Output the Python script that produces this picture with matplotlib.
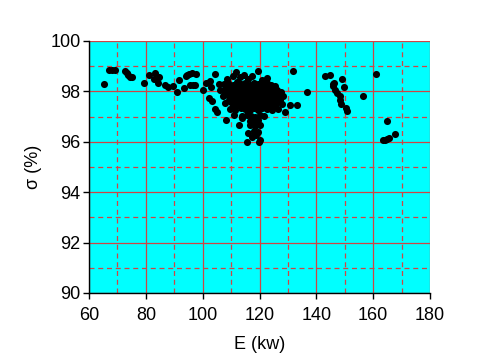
import matplotlib
matplotlib.use("Agg")
import matplotlib.pyplot as plt
from matplotlib.ticker import MultipleLocator

plt.rcParams['font.family'] = ['Liberation Sans', 'DejaVu Sans']

# E (kw) and sigma (%)
# low-power tail, 65-105 kw
e_left = [65.4, 67.2, 68.2, 69.2, 72.6, 73.2, 73.8, 74.5, 75.3, 79.5, 81.1,
          83.0, 83.4, 84.3, 84.6, 86.7, 87.7, 89.4, 90.9, 91.8, 93.6, 94.1,
          94.5, 95.3, 96.4, 97.8, 95.4, 96.5, 97.4, 100.2, 101.2, 102.8,
          102.3, 104.3, 105.9, 104.3, 105.0, 108.2, 103.2, 102.6]
s_left = [98.29, 98.85, 98.85, 98.84, 98.82, 98.72, 98.65, 98.58, 98.56,
          98.35, 98.63, 98.48, 98.72, 98.32, 98.58, 98.27, 98.16, 98.2, 97.98,
          98.47, 98.13, 98.6, 98.66, 98.7, 98.72, 98.7, 98.24, 98.25, 98.25,
          98.05, 98.32, 98.19, 97.73, 98.68, 98.29, 97.3, 97.2, 96.86, 97.6,
          98.42]

# main cluster, 106-131 kw
e_mid = [108.5, 110.5, 111.7, 113.0, 114.5, 116.0, 117.5, 119.6, 121.0, 122.5,
         107.5, 109.0, 110.5, 112.0, 113.5, 115.0, 116.5, 118.0, 119.5, 121.0,
         122.5, 124.0, 125.5,
         108.2, 109.8, 111.2, 112.8, 114.2, 115.8, 117.2, 118.8, 120.2, 121.8,
         123.2, 124.8,
         106.0, 108.0, 109.5, 111.0, 112.5, 114.0, 115.5, 117.0, 118.5, 120.0,
         121.5, 123.0, 124.5, 126.0, 127.5,
         107.8, 109.2, 110.8, 112.2, 113.8, 115.2, 116.8, 118.2, 119.8, 121.2,
         122.8, 124.2, 125.8, 127.0,
         107.0, 109.0, 110.5, 112.0, 113.5, 115.0, 116.5, 118.0, 119.5, 121.0,
         122.5, 124.0, 125.5, 127.0, 128.3,
         109.2, 110.8, 112.2, 113.8, 115.2, 116.8, 118.2, 119.8, 121.2, 122.8,
         124.2, 125.8, 127.2,
         108.0, 110.0, 111.5, 113.0, 114.5, 116.0, 117.5, 119.0, 120.5, 122.0,
         123.5, 125.0, 126.5, 128.0,
         110.8, 112.2, 114.2, 115.8, 117.2, 118.8, 120.2, 121.8, 123.5, 125.5,
         109.5, 111.5, 113.5, 115.0, 116.5, 118.0, 119.5, 121.0, 122.5, 124.5,
         126.5, 129.0, 130.7,
         111.0, 114.0, 115.5, 117.0, 118.5, 120.0, 121.5,
         113.7, 116.5, 118.0, 119.5,
         112.9, 116.6, 118.5, 120.3,
         116.0, 118.0, 119.5,
         117.5, 118.8,
         115.5, 119.9, 120.2]
s_mid = [98.5, 98.62, 98.76, 98.55, 98.65, 98.48, 98.6, 98.81, 98.45, 98.52,
         98.3, 98.34, 98.26, 98.36, 98.28, 98.32, 98.25, 98.35, 98.3, 98.27,
         98.33, 98.24, 98.2,
         98.18, 98.2, 98.15, 98.19, 98.17, 98.21, 98.16, 98.18, 98.2, 98.15,
         98.17, 98.12,
         98.05, 98.1, 98.02, 98.08, 98.0, 98.06, 98.1, 98.03, 98.07, 98.0,
         98.09, 98.04, 98.02, 98.06, 97.98,
         97.92, 97.94, 97.9, 97.93, 97.91, 97.95, 97.9, 97.92, 97.94, 97.9,
         97.93, 97.91, 97.9, 97.92,
         97.8, 97.84, 97.76, 97.82, 97.78, 97.85, 97.8, 97.77, 97.83, 97.79,
         97.84, 97.76, 97.82, 97.78, 97.8,
         97.67, 97.69, 97.65, 97.68, 97.66, 97.7, 97.66, 97.68, 97.67, 97.65,
         97.69, 97.66, 97.67,
         97.55, 97.58, 97.52, 97.56, 97.6, 97.53, 97.57, 97.5, 97.58, 97.54,
         97.56, 97.52, 97.58, 97.5,
         97.42, 97.44, 97.4, 97.43, 97.41, 97.44, 97.42, 97.4, 97.43, 97.41,
         97.3, 97.28, 97.34, 97.3, 97.26, 97.32, 97.28, 97.33, 97.3, 97.27,
         97.3, 97.2, 97.46,
         97.05, 97.02, 97.08, 97.04, 97.0, 97.06, 97.03,
         96.93, 96.84, 96.8, 96.86,
         96.67, 96.67, 96.62, 96.66,
         96.34, 96.42, 96.38,
         96.2, 96.27,
         96.0, 96.0, 96.06]

# high-power group, 131-168 kw
e_right = [131.7, 136.6, 133.1, 143.2, 144.8, 145.7, 146.0, 146.5, 147.1,
           146.2, 148.3, 148.5, 148.7, 150.4, 150.9, 148.9, 149.7, 156.3,
           161.0, 164.7, 167.7, 163.6, 164.3, 165.0, 165.7]
s_right = [98.8, 97.99, 97.46, 98.6, 98.65, 98.3, 98.2, 98.05, 97.92,
           98.35, 97.8, 97.65, 97.5, 97.34, 97.22, 98.48, 98.19, 97.82,
           98.68, 96.83, 96.31, 96.06, 96.08, 96.1, 96.15]

e_vals = e_left + e_mid + e_right
s_vals = s_left + s_mid + s_right

fig = plt.figure(figsize=(5.0, 3.53), dpi=100)
ax = fig.add_axes([0.178, 0.17, 0.682, 0.714])
ax.set_facecolor('#00ffff')

ax.scatter(e_vals, s_vals, s=26, c='black', zorder=3, linewidths=0)

ax.set_xlim(60, 180)
ax.set_ylim(90, 100)
ax.xaxis.set_major_locator(MultipleLocator(20))
ax.xaxis.set_minor_locator(MultipleLocator(10))
ax.yaxis.set_major_locator(MultipleLocator(2))
ax.yaxis.set_minor_locator(MultipleLocator(1))

ax.grid(which='major', color='#d04545', linestyle='-', linewidth=0.9)
ax.grid(which='minor', color='#d04545', linestyle=(0, (4, 3)), linewidth=0.9)
ax.set_axisbelow(True)

for side in ['top', 'right']:
    ax.spines[side].set_visible(False)
for side in ['left', 'bottom']:
    ax.spines[side].set_linewidth(1.0)

ax.tick_params(which='major', direction='out', length=4, width=1,
               labelsize=13, top=False, right=False)
ax.tick_params(axis='x', which='major', pad=6)
ax.tick_params(axis='y', which='major', pad=2)
ax.tick_params(which='minor', length=0)

ax.set_xlabel('E (kw)', fontsize=13, labelpad=9)
ax.set_ylabel('σ (%)', fontsize=13, labelpad=6)

fig.savefig('out.png', dpi=100)
